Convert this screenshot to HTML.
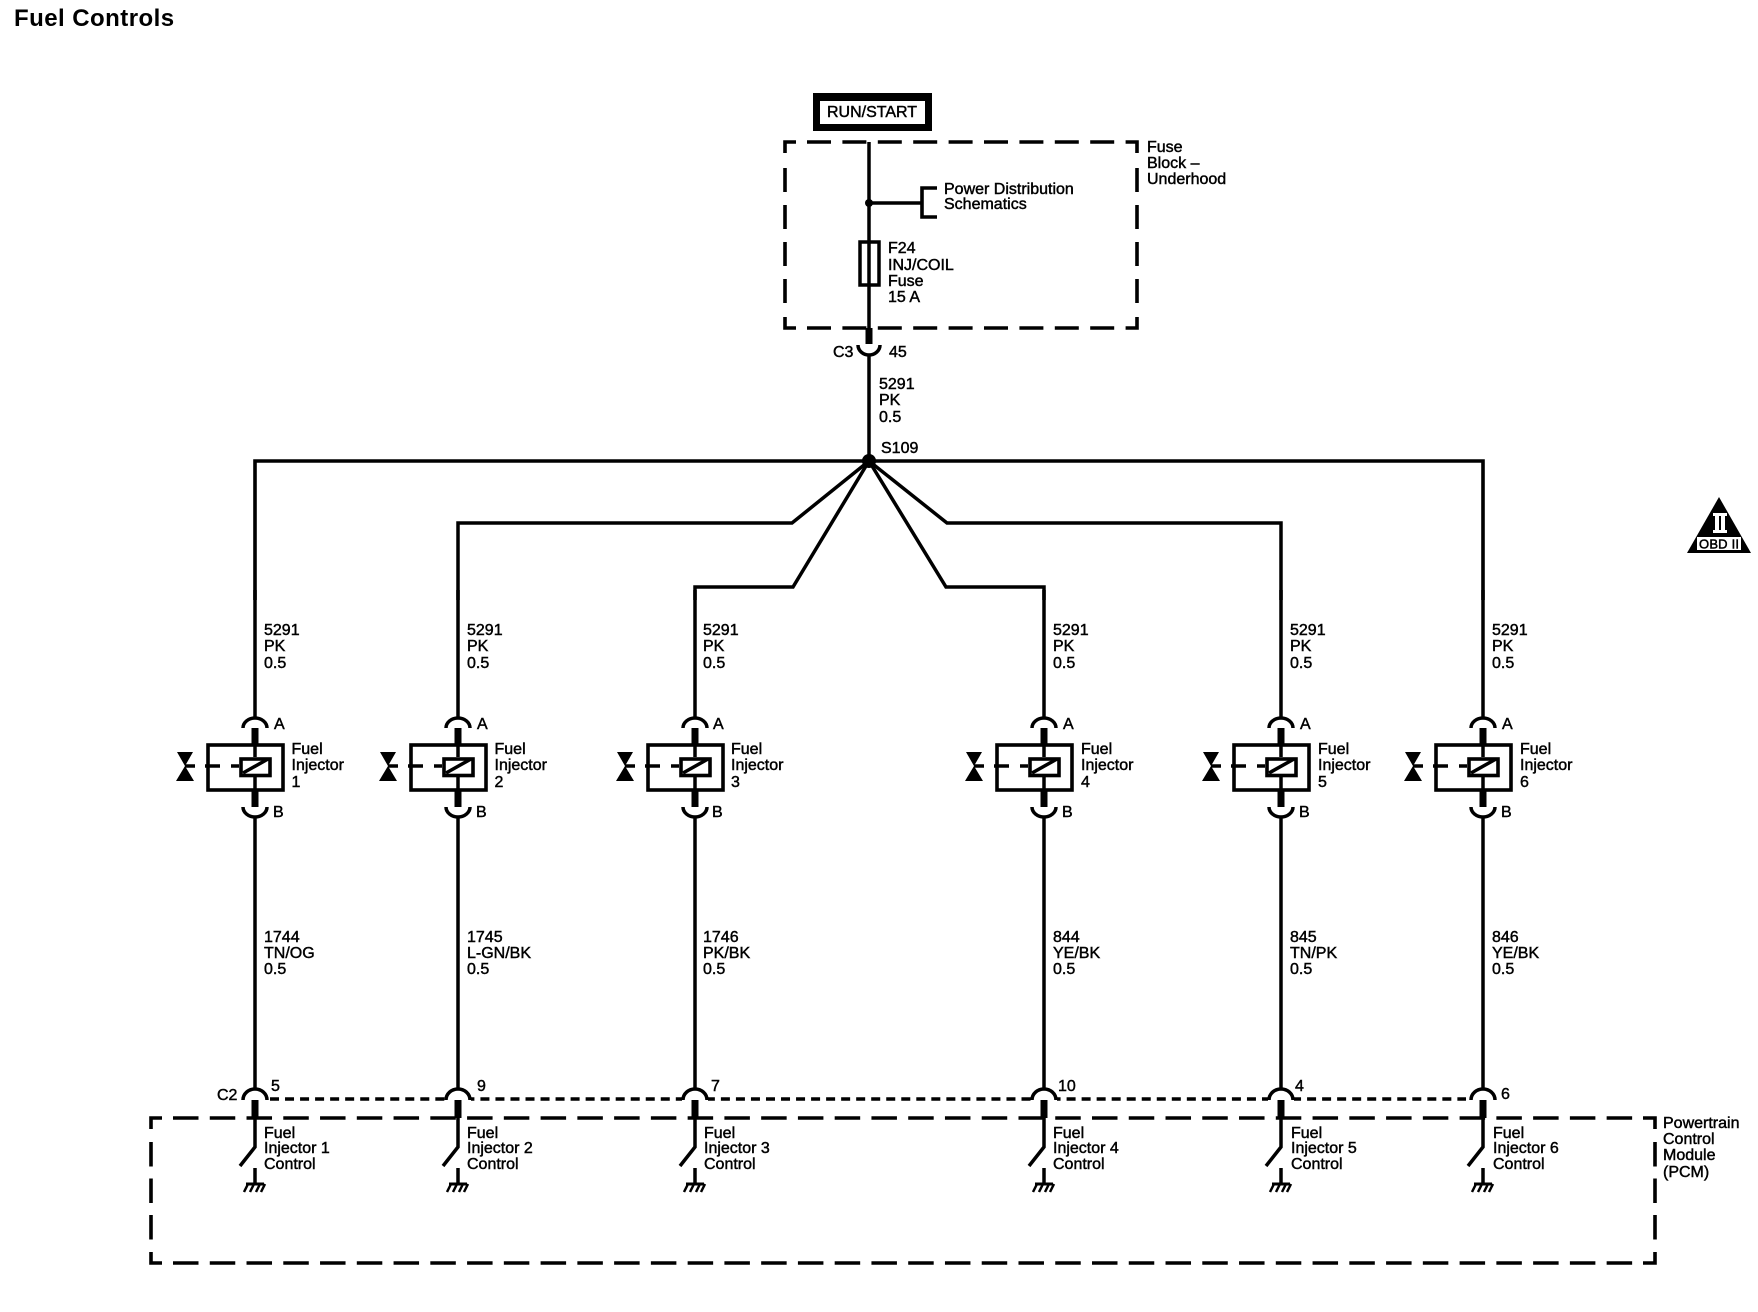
<!DOCTYPE html>
<html>
<head>
<meta charset="utf-8">
<title>Fuel Controls</title>
<style>
html,body{margin:0;padding:0;background:#fff;width:1758px;height:1312px;overflow:hidden}
svg{display:block}
text{font-family:"Liberation Sans",sans-serif;font-size:16px;fill:#000;stroke:#000;stroke-width:.45px}
.t{font-size:24px;font-weight:bold;stroke:none;letter-spacing:.45px}
.w{fill:none;stroke:#000;stroke-width:3.5}
.d{fill:none;stroke:#000;stroke-width:3.6}
.k{fill:none;stroke:#000;stroke-width:7}
</style>
</head>
<body>
<svg width="1758" height="1312" viewBox="0 0 1758 1312" xmlns="http://www.w3.org/2000/svg">
<defs>
<g id="inj">
  <path class="w" d="M0,590V718"/>
  <path class="w" d="M-12,728A12,10 0 0 1 12,728"/>
  <path class="k" d="M0,728V744"/>
  <rect class="d" x="-47" y="745" width="75" height="45"/>
  <path class="w" d="M0,745V757M0,777V791"/>
  <rect class="d" x="-14" y="759" width="29" height="16.5"/>
  <path class="w" d="M-12,773L13,759"/>
  <path class="w" d="M-50,766H-35M-24,766H-16"/>
  <path d="M-78,752H-62L-70,766L-78,752ZM-79,781H-61L-70,766Z" fill="#000"/>
  <path class="w" d="M-70,766H-60"/>
  <path class="k" d="M0,791V807"/>
  <path class="w" d="M-12,807A12,10 0 0 0 12,807"/>
  <path class="w" d="M0,817V1089"/>
  <rect x="-13" y="1090" width="26" height="12" fill="#fff"/>
  <path class="w" d="M-12,1100A12,11 0 0 1 12,1100"/>
  <path class="k" d="M0,1100V1118"/>
  <path class="w" d="M0,1118V1147L-15,1166"/>
  <path class="w" d="M0,1168V1184"/>
  <path d="M-9,1184H9" fill="none" stroke="#000" stroke-width="3"/>
  <path d="M-7,1184L-11,1192M-1,1184L-5,1192M5,1184L1,1192M10,1184L6,1192" fill="none" stroke="#000" stroke-width="2.5"/>
</g>
</defs>

<text class="t" x="14" y="26">Fuel Controls</text>

<!-- RUN/START -->
<path d="M813,93H932V131H813ZM820,101V124H925V101Z" fill="#000" fill-rule="evenodd"/>
<text x="827" y="117" textLength="90">RUN/START</text>

<!-- Fuse block -->
<path class="d" stroke-dasharray="24 11.4" d="M807,142H1126"/>
<path class="d" stroke-dasharray="24 11.4" d="M807,328H1126"/>
<path class="d" d="M796,142H785V153M1126,142H1137V153M796,328H785V317M1126,328H1137V317"/>
<path class="d" stroke-dasharray="24 13" d="M785,168V304"/>
<path class="d" stroke-dasharray="24 13" d="M1137,168V304"/>
<path class="w" d="M869,142V328"/>
<circle cx="869" cy="203" r="4" fill="#000"/>
<path class="w" d="M869,203H922"/>
<path class="d" d="M937,188H922V217H937"/>
<rect x="860" y="242" width="19" height="43" fill="#fff" stroke="#000" stroke-width="3.5"/>
<path class="w" d="M869,242V285"/>
<text x="1147" y="152">Fuse</text>
<text x="1147" y="168">Block –</text>
<text x="1147" y="184">Underhood</text>
<text x="944" y="194">Power Distribution</text>
<text x="944" y="209">Schematics</text>
<text x="888" y="253">F24</text>
<text x="888" y="270">INJ/COIL</text>
<text x="888" y="286">Fuse</text>
<text x="888" y="302">15 A</text>

<!-- C3 -->
<path class="k" d="M869,328V344"/>
<path class="w" d="M858,345A11,10 0 0 0 880,345"/>
<path class="w" d="M869,355V460"/>
<text x="833" y="357">C3</text>
<text x="889" y="357">45</text>
<text x="879" y="389">5291</text>
<text x="879" y="405">PK</text>
<text x="879" y="422">0.5</text>
<text x="881" y="453">S109</text>

<!-- Bus and branches -->
<path class="d" stroke-width="4" d="M255,600V461H1483V600"/>
<circle cx="869" cy="461" r="7" fill="#000"/>
<path class="w" d="M869,461L792,523H458V600"/>
<path class="w" d="M869,461L793,587H695V600"/>
<path class="w" d="M869,461L946,587H1044V600"/>
<path class="w" d="M869,461L947,523H1281V600"/>

<!-- Dashed shield line and PCM -->
<path class="d" stroke-width="4" stroke-dasharray="9 6.03" d="M270,1099H1466"/>
<path class="d" stroke-dasharray="25.5 11.26" d="M173,1118H1643"/>
<path class="d" stroke-dasharray="25.5 11.26" d="M173,1263H1643"/>
<path class="d" d="M162,1118H151V1129M1643,1118H1655V1129M162,1263H151V1252M1643,1263H1655V1252"/>
<path class="d" stroke-dasharray="24.5 12" d="M151,1142V1240"/>
<path class="d" stroke-dasharray="24.5 12" d="M1655,1142V1240"/>

<!-- Injectors -->
<use href="#inj" transform="translate(255,0)"/>
<use href="#inj" transform="translate(458,0)"/>
<use href="#inj" transform="translate(695,0)"/>
<use href="#inj" transform="translate(1044,0)"/>
<use href="#inj" transform="translate(1281,0)"/>
<use href="#inj" transform="translate(1483,0)"/>

<!-- Injector 1 -->
<text x="264" y="635">5291</text><text x="264" y="651">PK</text><text x="264" y="668">0.5</text>
<text x="274" y="729">A</text><text x="273" y="817">B</text>
<text x="291.5" y="754">Fuel</text><text x="291.5" y="770">Injector</text><text x="291.5" y="787">1</text>
<text x="264" y="942">1744</text><text x="264" y="958">TN/OG</text><text x="264" y="974">0.5</text>
<text x="217" y="1100">C2</text><text x="271" y="1091">5</text>
<text x="264" y="1138">Fuel</text><text x="264" y="1153">Injector 1</text><text x="264" y="1169">Control</text>

<!-- Injector 2 -->
<text x="467" y="635">5291</text><text x="467" y="651">PK</text><text x="467" y="668">0.5</text>
<text x="477" y="729">A</text><text x="476" y="817">B</text>
<text x="494.5" y="754">Fuel</text><text x="494.5" y="770">Injector</text><text x="494.5" y="787">2</text>
<text x="467" y="942">1745</text><text x="467" y="958">L-GN/BK</text><text x="467" y="974">0.5</text>
<text x="477" y="1091">9</text>
<text x="467" y="1138">Fuel</text><text x="467" y="1153">Injector 2</text><text x="467" y="1169">Control</text>

<!-- Injector 3 -->
<text x="703" y="635">5291</text><text x="703" y="651">PK</text><text x="703" y="668">0.5</text>
<text x="713" y="729">A</text><text x="712" y="817">B</text>
<text x="731" y="754">Fuel</text><text x="731" y="770">Injector</text><text x="731" y="787">3</text>
<text x="703" y="942">1746</text><text x="703" y="958">PK/BK</text><text x="703" y="974">0.5</text>
<text x="711" y="1091">7</text>
<text x="704" y="1138">Fuel</text><text x="704" y="1153">Injector 3</text><text x="704" y="1169">Control</text>

<!-- Injector 4 -->
<text x="1053" y="635">5291</text><text x="1053" y="651">PK</text><text x="1053" y="668">0.5</text>
<text x="1063" y="729">A</text><text x="1062" y="817">B</text>
<text x="1081" y="754">Fuel</text><text x="1081" y="770">Injector</text><text x="1081" y="787">4</text>
<text x="1053" y="942">844</text><text x="1053" y="958">YE/BK</text><text x="1053" y="974">0.5</text>
<text x="1058" y="1091">10</text>
<text x="1053" y="1138">Fuel</text><text x="1053" y="1153">Injector 4</text><text x="1053" y="1169">Control</text>

<!-- Injector 5 -->
<text x="1290" y="635">5291</text><text x="1290" y="651">PK</text><text x="1290" y="668">0.5</text>
<text x="1300" y="729">A</text><text x="1299" y="817">B</text>
<text x="1318" y="754">Fuel</text><text x="1318" y="770">Injector</text><text x="1318" y="787">5</text>
<text x="1290" y="942">845</text><text x="1290" y="958">TN/PK</text><text x="1290" y="974">0.5</text>
<text x="1295" y="1091">4</text>
<text x="1291" y="1138">Fuel</text><text x="1291" y="1153">Injector 5</text><text x="1291" y="1169">Control</text>

<!-- Injector 6 -->
<text x="1492" y="635">5291</text><text x="1492" y="651">PK</text><text x="1492" y="668">0.5</text>
<text x="1502" y="729">A</text><text x="1501" y="817">B</text>
<text x="1520" y="754">Fuel</text><text x="1520" y="770">Injector</text><text x="1520" y="787">6</text>
<text x="1492" y="942">846</text><text x="1492" y="958">YE/BK</text><text x="1492" y="974">0.5</text>
<text x="1501" y="1099">6</text>
<text x="1493" y="1138">Fuel</text><text x="1493" y="1153">Injector 6</text><text x="1493" y="1169">Control</text>

<!-- PCM label -->
<text x="1663" y="1128">Powertrain</text>
<text x="1663" y="1144">Control</text>
<text x="1663" y="1160">Module</text>
<text x="1663" y="1177">(PCM)</text>

<!-- OBD II -->
<path d="M1719,497L1751,553H1687Z" fill="#000"/>
<path d="M1713,513H1727V516H1725V530H1727V533H1713V530H1715V516H1713Z" fill="#fff"/>
<rect x="1719" y="516" width="2" height="14" fill="#000"/>
<rect x="1697" y="537" width="44" height="13" fill="#fff"/>
<text x="1699" y="548.5" textLength="40" style="font-size:13px;stroke-width:.5px">OBD II</text>
</svg>
</body>
</html>
